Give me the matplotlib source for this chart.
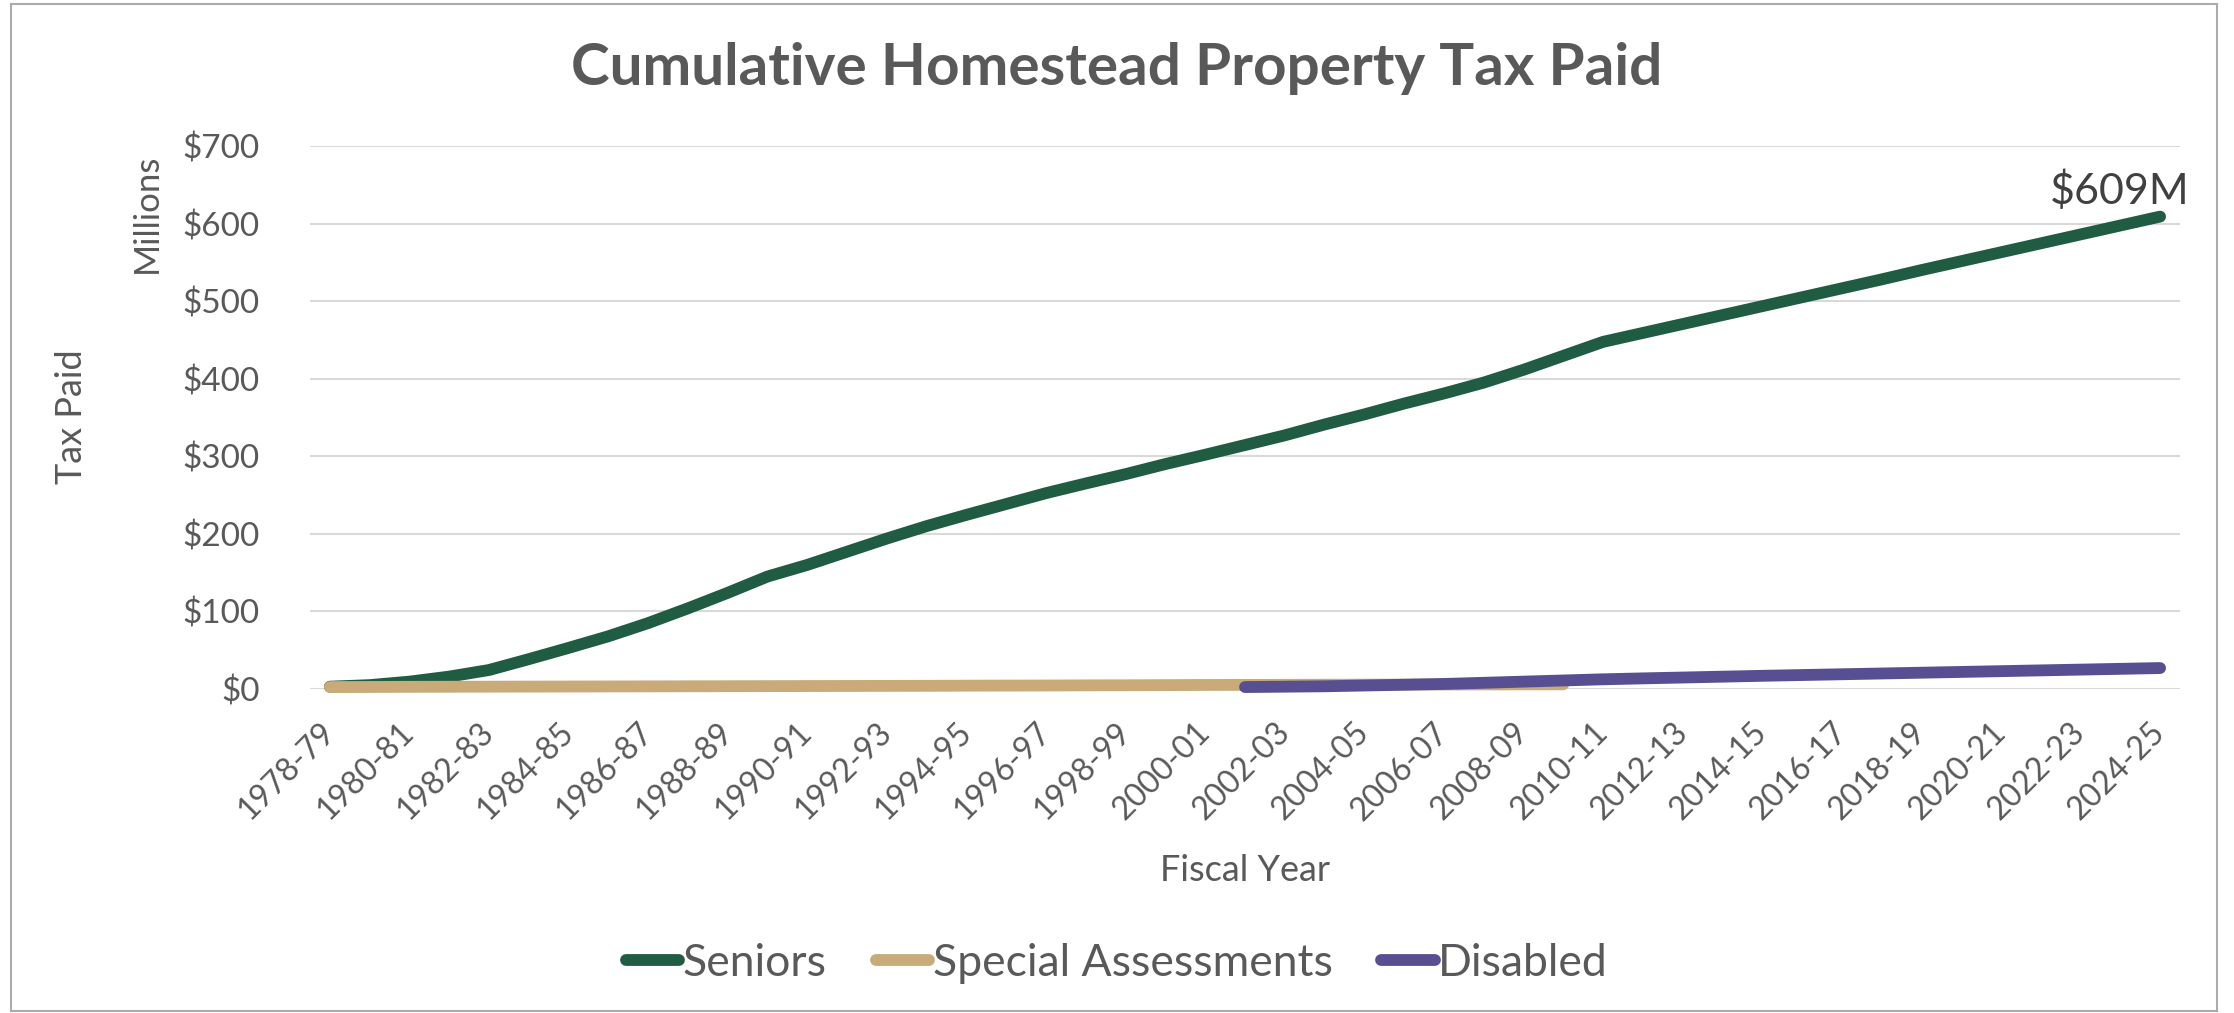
import matplotlib
matplotlib.use("Agg")
import matplotlib.pyplot as plt
import matplotlib.patches as patches
from matplotlib.ticker import StrMethodFormatter
import numpy as np

plt.rcParams['font.family'] = ['Lato', 'DejaVu Sans']

# fiscal years on the category axis
years = ['1978-79', '1979-80', '1980-81', '1981-82', '1982-83', '1983-84', '1984-85',
         '1985-86', '1986-87', '1987-88', '1988-89', '1989-90', '1990-91', '1991-92',
         '1992-93', '1993-94', '1994-95', '1995-96', '1996-97', '1997-98', '1998-99',
         '1999-00', '2000-01', '2001-02', '2002-03', '2003-04', '2004-05', '2005-06',
         '2006-07', '2007-08', '2008-09', '2009-10', '2010-11', '2011-12', '2012-13',
         '2013-14', '2014-15', '2015-16', '2016-17', '2017-18', '2018-19', '2019-20',
         '2020-21', '2021-22', '2022-23', '2023-24', '2024-25']

# cumulative tax paid, $ millions
seniors = [3, 5, 9.5, 16, 24.5, 38.5, 53, 68, 85, 104, 124, 145, 160, 177, 194, 210,
           224.5, 238.5, 252.5, 265, 277, 290, 302, 314.5, 327, 341, 354, 368, 381, 395,
           411.5, 429.5, 447.5, 459, 470.5, 482, 493.5, 505, 516.5, 528, 540, 551.5,
           563, 574.5, 586, 597.5, 609]

special_first = '1978-79'
special = [2.5, 2.6, 2.8, 2.9, 3.0, 3.1, 3.2, 3.3, 3.4, 3.5, 3.6, 3.7, 3.8, 3.9, 4.0, 4.1,
           4.3, 4.4, 4.5, 4.7, 4.8, 5.0, 5.2, 5.3, 5.4, 5.5, 5.6, 5.7, 5.8, 5.9, 6.0, 6.0]

disabled_first = '2001-02'
disabled = [2.5, 3, 3.5, 4.5, 5.5, 6.5, 8, 9.5, 11, 12.5, 13.7, 14.8, 15.9, 17, 18, 19,
            20, 21, 22, 23, 24, 25, 26, 27]

series_names = ['Seniors', 'Special Assessments', 'Disabled']
series_colors = ['#1F5C42', '#C9AA79', '#574F91']

W, H = 2234, 1013
gray = '#595959'

fig = plt.figure(figsize=(W / 100, H / 100), dpi=100)
fig.patches.append(patches.Rectangle((11 / W, 2 / H), 2206 / W, 1007 / H, transform=fig.transFigure,
                                     fill=False, edgecolor='#ABABAB', linewidth=1.5))

ax = fig.add_axes([310 / W, 1 - 689 / H, 1870 / W, 543 / H])

x_sen = np.arange(len(seniors))
i0 = years.index(special_first)
x_spe = np.arange(i0, i0 + len(special))
i1 = years.index(disabled_first)
x_dis = np.arange(i1, i1 + len(disabled))

lw = 8.5
ax.plot(x_sen, seniors, color=series_colors[0], lw=lw, solid_capstyle='round',
        solid_joinstyle='round', label=series_names[0], clip_on=False, zorder=3)
ax.plot(x_spe, special, color=series_colors[1], lw=lw, solid_capstyle='round',
        solid_joinstyle='round', label=series_names[1], clip_on=False, zorder=4)
ax.plot(x_dis, disabled, color=series_colors[2], lw=lw, solid_capstyle='round',
        solid_joinstyle='round', label=series_names[2], clip_on=False, zorder=5)

ax.annotate('$%dM' % round(seniors[-1]), (x_sen[-1], seniors[-1]), xytext=(-40, 6),
            textcoords='offset pixels', ha='center', va='bottom', fontsize=31, color='#404040')

ax.set_xlim(-0.5, len(years) - 0.5)
ax.set_ylim(0, 700)
ax.set_yticks(range(0, 701, 100))
ax.yaxis.set_major_formatter(StrMethodFormatter('${x:,.0f}'))
ax.set_xticks(range(0, len(years), 2))
ax.set_xticklabels(years[::2], rotation=45, ha='right', va='center', rotation_mode='anchor')

ax.tick_params(axis='y', length=0, pad=36, labelsize=24, labelcolor=gray)
ax.tick_params(axis='x', length=0, pad=28, labelsize=23, labelcolor=gray)
ax.grid(axis='y', color='#D9D9D9', lw=1.5)
ax.set_axisbelow(True)
for s in ax.spines.values():
    s.set_visible(False)

fig.text(1117 / W, 1 - 85 / H, 'Cumulative Homestead Property Tax Paid', ha='center',
         va='baseline', fontsize=42, fontweight='bold', color=gray)
fig.text(71 / W, 1 - 417 / H, 'Tax Paid', rotation=90, ha='center', va='center',
         fontsize=26, color=gray)
fig.text(147 / W, 1 - 213 / H, 'Millions', rotation=90, ha='center', va='center',
         fontsize=25, color=gray)
fig.text(1245 / W, 1 - 870 / H, 'Fiscal Year', ha='center', va='center',
         fontsize=26, color=gray)

leg = fig.legend(loc='center', bbox_to_anchor=(0.5, 1 - 963 / H), ncol=3, frameon=False,
                 fontsize=32, handlelength=1.2, handletextpad=0.08, columnspacing=1.1)
for t in leg.get_texts():
    t.set_color(gray)

fig.savefig('out.png', dpi=100)
